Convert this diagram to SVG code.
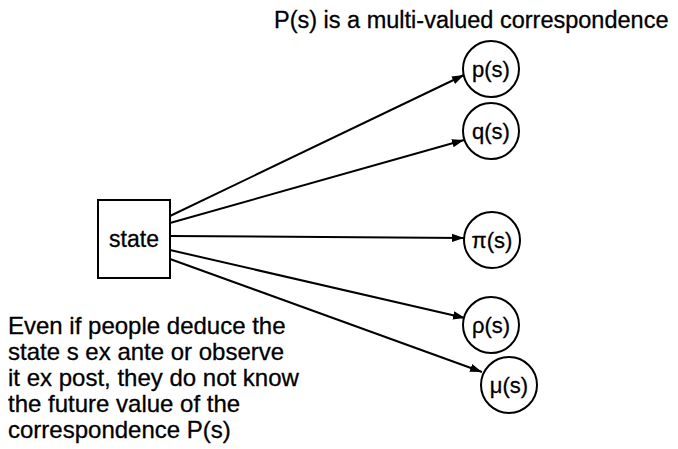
<svg xmlns="http://www.w3.org/2000/svg" width="678" height="449" viewBox="0 0 678 449">
<style>
text{font-family:"Liberation Sans",Arial,sans-serif;fill:#000;stroke:#000;stroke-width:0.3}
.lbl{font-size:22px;text-anchor:middle}
.title{font-size:23.5px}
.note{font-size:24px}
.node{fill:#fff;stroke:#000;stroke-width:2}
.edge{stroke:#000;stroke-width:2;fill:none;marker-end:url(#ah)}
</style>
<defs>
<marker id="ah" viewBox="0 0 10 10" refX="10" refY="5" markerWidth="6" markerHeight="6" orient="auto" markerUnits="strokeWidth">
<path d="M0,1.5 L10,5 L0,8.5 z" fill="#000"/>
</marker>
</defs>
<rect width="678" height="449" fill="#fff"/>
<text class="title" x="274" y="28">P(s) is a multi-valued correspondence</text>
<g id="connectors">
<line class="edge" x1="170" y1="216" x2="464" y2="75"/>
<line class="edge" x1="170" y1="223" x2="464" y2="140"/>
<line class="edge" x1="170" y1="236" x2="464" y2="238"/>
<line class="edge" x1="170" y1="250" x2="465" y2="318"/>
<line class="edge" x1="170" y1="259" x2="482" y2="372"/>
</g>
<g id="state">
<rect class="node" x="98" y="200" width="72" height="78"/>
<text class="lbl" style="font-size:23px" x="134" y="247">state</text>
</g>
<g id="p">
<circle class="node" cx="491" cy="69" r="28"/>
<text class="lbl" x="491" y="77">p(s)</text>
</g>
<g id="q">
<circle class="node" cx="491" cy="131" r="28"/>
<text class="lbl" x="491" y="139">q(s)</text>
</g>
<g id="pi">
<circle class="node" cx="492" cy="240" r="28"/>
<text class="lbl" x="492" y="248">π(s)</text>
</g>
<g id="rho">
<circle class="node" cx="491" cy="325" r="28"/>
<text class="lbl" x="491" y="333">ρ(s)</text>
</g>
<g id="mu">
<circle class="node" cx="509" cy="385" r="28"/>
<text class="lbl" x="509" y="393">μ(s)</text>
</g>
<g id="note">
<text class="note" x="8" y="334">Even if people deduce the</text>
<text class="note" x="8" y="360">state s ex ante or observe</text>
<text class="note" x="8" y="386">it ex post, they do not know</text>
<text class="note" x="8" y="412">the future value of the</text>
<text class="note" x="8" y="438">correspondence P(s)</text>
</g>
</svg>
